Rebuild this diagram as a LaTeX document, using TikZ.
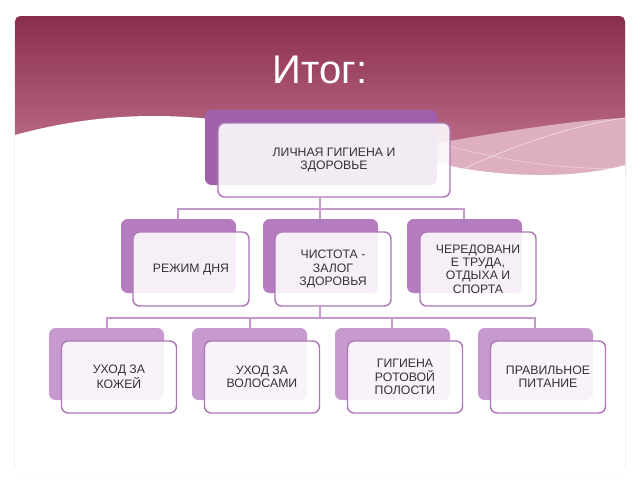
\documentclass[tikz,border=0pt]{standalone}
\usepackage{fontspec}
\setmainfont{Liberation Sans}
\begin{document}
\begin{tikzpicture}[x=0.75pt,y=-0.75pt,
 backA/.style={fill=c1,rounded corners=5pt,draw=none},
 backB/.style={fill=c2,rounded corners=5pt,draw=none},
 backC/.style={fill=c3,rounded corners=5pt,draw=none},
 front/.style={draw=c1!85,line width=1.1pt,fill=white,fill opacity=0.88,text opacity=1,rounded corners=5pt,align=center,font=\fontsize{9.2}{10}\selectfont,text=black!80,inner sep=0pt},
 conn/.style={draw=c2!80,line width=1pt}]
\definecolor{c1}{HTML}{A060AC}
\definecolor{c2}{HTML}{B57DC0}
\definecolor{c3}{HTML}{C69ACF}
\definecolor{ban1}{HTML}{8A2E4E}
\definecolor{ban2}{HTML}{C77A94}
\useasboundingbox (0,0) rectangle (640,480);
\fill[white] (0,0) rectangle (640,480);
\fill[black!6,rounded corners=4pt] (14,16) rectangle (626,472);
\fill[white,rounded corners=4pt] (15,16) rectangle (625,470);
% banner
\shade[top color=ban1,bottom color=ban2,rounded corners=4pt]
 (15,180) -- (15,16) -- (625,16) -- (625,180) -- cycle;
\fill[ban2!60] (400,150) .. controls (480,135) and (570,120) .. (625,118) -- (625,170)
 .. controls (580,178) and (520,180) .. (460,170) -- cycle;
\fill[white] (15,135) .. controls (70,120) and (130,112) .. (200,118)
 .. controls (300,126) and (380,150) .. (460,168)
 .. controls (530,180) and (590,175) .. (625,165) -- (625,472) -- (15,472) -- cycle;
\draw[white,opacity=0.7] (440,180) .. controls (500,150) and (570,125) .. (625,118);
\draw[white,opacity=0.5] (445,145) .. controls (520,165) and (580,170) .. (625,168);
\node[text=white,font=\fontsize{30}{33}\selectfont] (title) at (320,70) {Итог:};
% top
\fill[backA] (205,110) rectangle (437,185);
\node[front,minimum width=232*0.75pt,minimum height=74*0.75pt] (top) at (334,160) {ЛИЧНАЯ ГИГИЕНА И\\ЗДОРОВЬЕ};
% level 2 backs
\fill[backB] (121,219) rectangle (236,293);
\fill[backB] (263,219) rectangle (378,293);
\fill[backB] (407,219) rectangle (522,293);
\coordinate (b1) at (178,219);\coordinate (b2) at (320,219);\coordinate (b3) at (464,219);
\coordinate (j1) at (320,209);
\draw[conn] (top.south -| b2) -- (j1);
\draw[conn] (b1) |- (j1) -| (b3);
\draw[conn] (j1) -- (b2);
\node[front,minimum width=116*0.75pt,minimum height=74*0.75pt] (n1) at (191,269) {РЕЖИМ ДНЯ};
\node[front,minimum width=116*0.75pt,minimum height=74*0.75pt] (n2) at (333,269) {ЧИСТОТА -\\ЗАЛОГ\\ЗДОРОВЬЯ};
\node[front,minimum width=116*0.75pt,minimum height=74*0.75pt] (n3) at (478,269) {ЧЕРЕДОВАНИ\\Е ТРУДА,\\ОТДЫХА И\\СПОРТА};
% level 3
\fill[backC] (49,328) rectangle (164,400);
\fill[backC] (192,328) rectangle (307,400);
\fill[backC] (335,328) rectangle (450,400);
\fill[backC] (478,328) rectangle (593,400);
\coordinate (d1) at (107,328);\coordinate (d2) at (250,328);\coordinate (d3) at (392,328);\coordinate (d4) at (535,328);
\coordinate (j2) at (320,318);
\draw[conn] (n2.south -| j2) -- (j2);
\draw[conn] (d1) |- (j2) -| (d4);
\draw[conn] (d2) -- (d2 |- j2);
\draw[conn] (d3) -- (d3 |- j2);
\node[front,minimum width=115*0.75pt,minimum height=72*0.75pt] (m1) at (119,377) {УХОД ЗА\\КОЖЕЙ};
\node[front,minimum width=115*0.75pt,minimum height=72*0.75pt] (m2) at (262,377) {УХОД ЗА\\ВОЛОСАМИ};
\node[front,minimum width=115*0.75pt,minimum height=72*0.75pt] (m3) at (405,377) {ГИГИЕНА\\РОТОВОЙ\\ПОЛОСТИ};
\node[front,minimum width=115*0.75pt,minimum height=72*0.75pt] (m4) at (548,377) {ПРАВИЛЬНОЕ\\ПИТАНИЕ};
\end{tikzpicture}
\end{document}
